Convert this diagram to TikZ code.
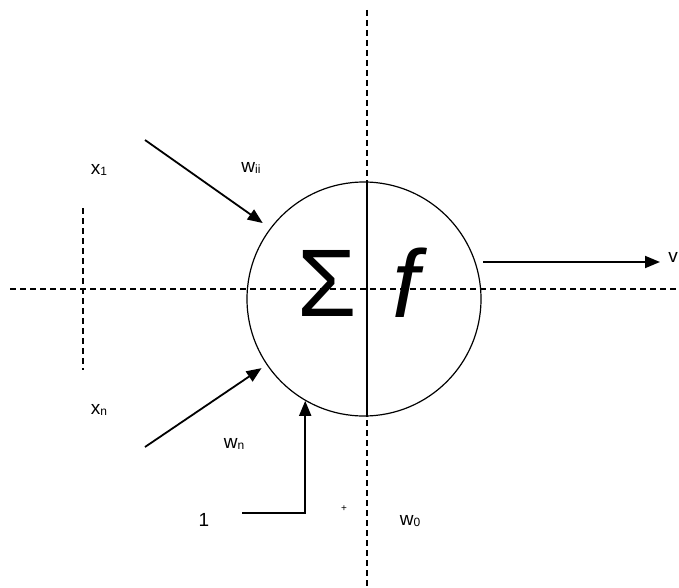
\documentclass[tikz,border=0pt]{standalone}
\usepackage{fontspec}
\setmainfont{Liberation Sans}
\usetikzlibrary{arrows.meta, positioning}
\newcommand{\sub}[1]{{\fontsize{12}{12}\selectfont\raisebox{-1.5pt}{#1}}}

\begin{document}
\begin{tikzpicture}[x=1pt, y=-1pt,
  neuron/.style={circle, draw, line width=1.2pt, minimum size=234pt, inner sep=0pt},
  axis/.style={dashed, line width=1.1pt, dash pattern=on 6pt off 4pt},
  arrow/.style={-{Triangle[length=15pt, width=12pt]}, line width=1.8pt},
  lbl/.style={font=\fontsize{19}{19}\selectfont, inner sep=0pt},
  big/.style={font=\fontsize{96}{96}\selectfont, inner sep=0pt},
]
  \useasboundingbox (0,0) rectangle (679,588);

  % axes
  \coordinate (vtop) at (367,10);
  \coordinate (vbot) at (367,588);
  \coordinate (hleft) at (10,289);
  \coordinate (hright) at (679,289);
  \coordinate (etop) at (83,208);
  \coordinate (ebot) at (83,370);
  \draw[axis] (vtop) -- (vbot);
  \draw[axis] (hleft) -- (hright);
  \draw[axis] (etop) -- (ebot);

  % neuron
  \node[neuron] (cell) at (364,299) {};
  \draw[line width=1.2pt] (cell.north -| vtop) -- (cell.south -| vtop);
  \node[big] (sum) at (327,283) {Σ};
  \node[big] (act) at (406,283) {\itshape f};

  % labels
  \node[lbl] (x1) at (99,170) {x\sub{1}};
  \node[lbl] (wii) at (251,168) {w\sub{ii}};
  \node[lbl] (xn) at (99,410) {x\sub{n}};
  \node[lbl] (wn) at (234,444) {w\sub{n}};
  \node[lbl] (one) at (204,520) {1};
  \node[font=\fontsize{10}{10}\selectfont, inner sep=0pt] (plus) at (344,509) {+};
  \node[lbl] (w0) at (410,521) {w\sub{0}};
  \node[lbl] (v) at (673,257) {v};

  % connectors
  \coordinate (in1) at (145,140);
  \coordinate (inn) at (145,447);
  \coordinate (bias) at (242,513);
  \coordinate (start) at (483,262);
  \coordinate (out) at (660,262);
  \draw[arrow, shorten >=9pt] (in1) -- (cell.143);
  \draw[arrow, shorten >=6pt] (inn) -- (cell.214);
  \draw[arrow] (bias) -| (cell.240);
  \draw[arrow] (start) -- (out);
\end{tikzpicture}
\end{document}
